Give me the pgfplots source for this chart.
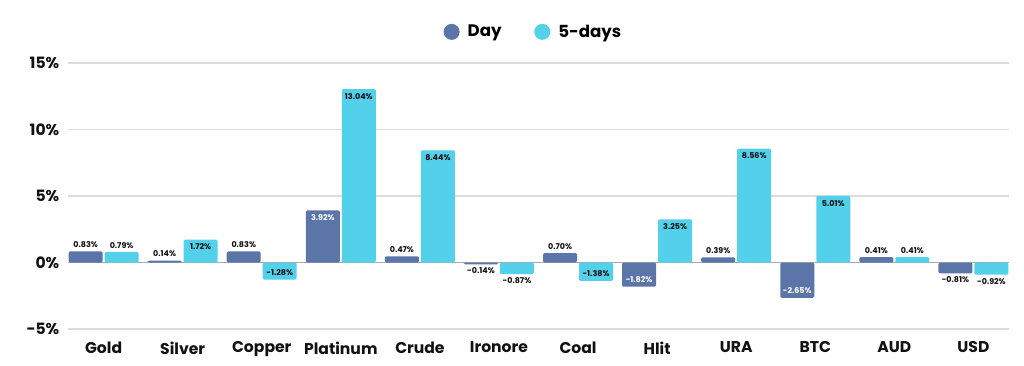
\documentclass[border=0pt]{standalone}
\usepackage{pgfplots}
\pgfplotsset{compat=1.18}
\usepackage{fontspec}
\setmainfont{Poppins}
\definecolor{dayc}{HTML}{5B75A9}
\definecolor{fivec}{HTML}{53D0EA}
\definecolor{gridc}{HTML}{DDDDDD}
\definecolor{zeroc}{HTML}{AAAAAA}
\definecolor{txt}{HTML}{111111}
\pgfplotsset{
  lblbase/.style={draw=none, mark=none, forget plot,
    nodes near coords={\pgfmathprintnumber[fixed,fixed zerofill,precision=2]{\pgfplotspointmeta}\%},
    every node near coord/.append style={font=\bfseries\fontsize{6}{7}\selectfont, inner sep=1pt, text=txt}},
  dayshift/.style={every node near coord/.append style={xshift=-13.5pt}},
  fiveshift/.style={every node near coord/.append style={xshift=13.5pt}},
  lblA/.style={lblbase, every node near coord/.append style={anchor=south, yshift=1.5pt}},
  lblI/.style={lblbase, every node near coord/.append style={anchor=north, yshift=-2pt}},
  lblB/.style={lblbase, every node near coord/.append style={anchor=north, yshift=-1.5pt}},
  lblN/.style={lblbase, every node near coord/.append style={anchor=south, yshift=2pt}},
}
\begin{document}
\begin{tikzpicture}
\useasboundingbox (-51pt,-27pt) rectangle (717pt,246.75pt);
\begin{axis}[
  at={(0,0)}, anchor=south west,
  scale only axis, width=705.75pt, height=199.5pt,
  xmin=-0.45, xmax=11.45, ymin=-5, ymax=15,
  ytick={-5,0,5,10,15},
  yticklabel={\pgfmathprintnumber{\tick}\%},
  xtick={0,...,11},
  xticklabels={Gold,Silver,Copper,Platinum,Crude,Ironore,Coal,Hlit,URA,BTC,AUD,USD},
  /pgf/number format/assume math mode=true,
  axis line style={draw=none},
  tick style={draw=none},
  ymajorgrids,
  grid style={gridc, line width=0.9pt},
  extra y ticks={0}, extra y tick labels={},
  extra y tick style={grid style={zeroc, line width=1.1pt}},
  ticklabel style={font=\bfseries\fontsize{11.7}{13}\selectfont, text=txt},
  yticklabel style={xshift=-3pt},
  xticklabel style={yshift=-6pt},
  legend style={draw=none, fill=none, legend columns=2,
    at={(0.495,1.117)}, anchor=center,
    font=\bfseries\fontsize{12.5}{14}\selectfont,
    /tikz/every even column/.append style={column sep=22.5pt}},
  legend image code/.code={\fill (0pt,0pt) circle (6pt); \path (10pt,0pt);},
]
\addplot[ybar, bar width=25.5pt, bar shift=-13.5pt, fill=dayc, draw=none, rounded corners=1pt]
 coordinates {(0,0.83) (1,0.14) (2,0.83) (3,3.92) (4,0.47) (5,-0.14) (6,0.70) (7,-1.82) (8,0.39) (9,-2.65) (10,0.41) (11,-0.81)};
\addlegendentry{Day}
\addplot[ybar, bar width=25.5pt, bar shift=13.5pt, fill=fivec, draw=none, rounded corners=1pt]
 coordinates {(0,0.79) (1,1.72) (2,-1.28) (3,13.04) (4,8.44) (5,-0.87) (6,-1.38) (7,3.25) (8,8.56) (9,5.01) (10,0.41) (11,-0.92)};
\addlegendentry{5-days}
% Day labels
\addplot[lblA, dayshift] coordinates {(0,0.83) (1,0.14) (2,0.83) (4,0.47) (6,0.70) (8,0.39) (10,0.41)};
\addplot[lblI, dayshift, every node near coord/.append style={text=white}] coordinates {(3,3.92)};
\addplot[lblB, dayshift] coordinates {(5,-0.14) (11,-0.81)};
\addplot[lblN, dayshift, every node near coord/.append style={text=white}] coordinates {(7,-1.82) (9,-2.65)};
% 5-days labels
\addplot[lblA, fiveshift] coordinates {(0,0.79) (10,0.41)};
\addplot[lblI, fiveshift] coordinates {(1,1.72) (3,13.04) (4,8.44) (7,3.25) (8,8.56) (9,5.01)};
\addplot[lblN, fiveshift] coordinates {(2,-1.28) (6,-1.38)};
\addplot[lblB, fiveshift] coordinates {(5,-0.87) (11,-0.92)};
\end{axis}
\end{tikzpicture}
\end{document}
